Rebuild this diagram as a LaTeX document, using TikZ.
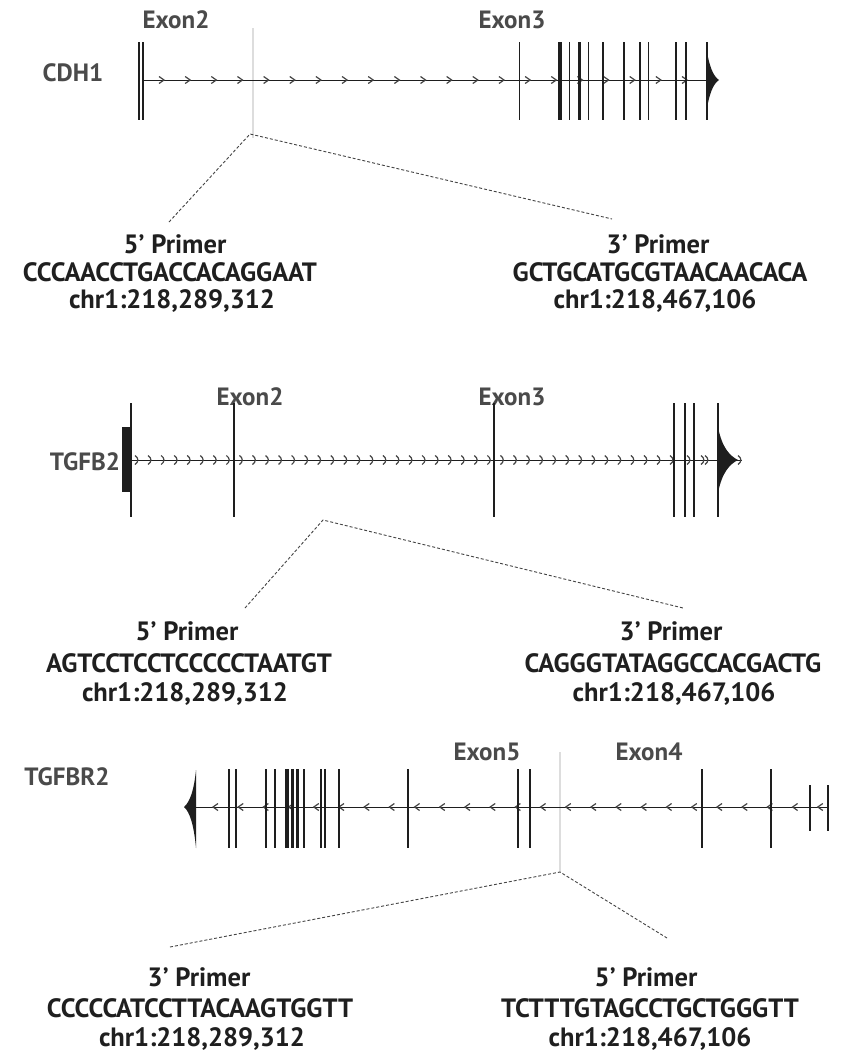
\documentclass[tikz,border=0pt]{standalone}
\usepackage{fontspec}
\setmainfont{PT Sans}
\definecolor{linec}{HTML}{1E1E1E}
\definecolor{labgray}{HTML}{4A4A4A}
\definecolor{txtdark}{HTML}{1F1F1F}
\definecolor{chevc}{HTML}{444444}
\definecolor{faint}{HTML}{DDDDDD}
\tikzset{
  lab/.style={font=\fontsize{25}{25}\selectfont\bfseries, text=labgray, inner sep=0pt, anchor=base},
  seqtxt/.style={font=\fontsize{26.5}{26.5}\selectfont\bfseries, text=txtdark, inner sep=0pt, anchor=base},
  gline/.style={line width=1pt, draw=linec},
  thinbar/.style={line width=1.6pt, draw=linec},
  thickbar/.style={line width=3.2pt, draw=linec},
  chev/.style={line width=1.2pt, draw=chevc},
  prim/.style={dash pattern=on 3pt off 2pt, line width=0.9pt, draw=chevc},
  faintline/.style={line width=1.5pt, draw=faint}
}
\begin{document}
\begin{tikzpicture}[x=1pt,y=-1pt]
\useasboundingbox (0,0) rectangle (844,1055);
\fill[white] (0,0) rectangle (844,1055);

% ================= CDH1 =================
\draw[faintline] (253,28) -- (253,138);
\node[lab] (cdh1) at (73,81) {CDH1};
\node[lab] (c-ex2) at (176,28) {Exon2};
\node[lab] (c-ex3) at (512,28) {Exon3};
\draw[gline] (143,80) -- (716,80);
\foreach \x in {0,...,20} {
  \draw[chev] ({162+26.15*\x-3},76.5) -- ({162+26.15*\x+2},80) -- ({162+26.15*\x-3},83.5);
}
\foreach \x in {139,143,519.3,569.3,588.3,602.7,624,640,648.3,676,686,706.7} {
  \draw[thinbar] (\x,42) -- (\x,120);
}
\foreach \x in {560,579.3} {
  \draw[thickbar] (\x,42) -- (\x,120);
}
\fill[linec] (706,46) .. controls (709,66) and (713,76) .. (719,80) .. controls (713,84) and (709,94) .. (706,114) -- cycle;

\coordinate (apex1) at (250,134);
\coordinate (l1) at (169,222);
\coordinate (r1) at (612,219);
\draw[prim] (l1) -- (apex1) -- (r1);

\node[seqtxt] (c-p5) at (175,253) {5’ Primer};
\node[seqtxt] (c-s5) at (170,281) {CCCAACCTGACCACAGGAAT};
\node[seqtxt] (c-c5) at (172,308) {chr1:218,289,312};
\node[seqtxt] (c-p3) at (658,253) {3’ Primer};
\node[seqtxt] (c-s3) at (660,281) {GCTGCATGCGTAACAACACA};
\node[seqtxt] (c-c3) at (655,308) {chr1:218,467,106};

% ================= TGFB2 =================
\node[lab] (tgfb2) at (85,470) {TGFB2};
\node[lab] (t-ex2) at (250,405) {Exon2};
\node[lab] (t-ex3) at (512,405) {Exon3};
\draw[gline] (131,460) -- (742,460);
\foreach \x in {0,...,41} {
  \draw[chev] ({137+13.05*\x-2},455.5) .. controls ({137+13.05*\x+1.8},458) and ({137+13.05*\x+1.8},462) .. ({137+13.05*\x-2},464.5);
}
\foreach \x in {689,703,707,740} {
  \draw[chev] (\x-2,455.5) .. controls (\x+1.8,458) and (\x+1.8,462) .. (\x-2,464.5);
}
\fill[linec] (122,427) rectangle (130,492);
\foreach \x in {131,234,494,674,685,694,718} {
  \draw[thinbar] (\x,403) -- (\x,517);
}
\fill[linec] (718,427) .. controls (722,448) and (730,456) .. (738,460) .. controls (730,464) and (722,472) .. (718,493) -- cycle;

\coordinate (apex2) at (323,520);
\coordinate (l2) at (245,608);
\coordinate (r2) at (683,608);
\draw[prim] (l2) -- (apex2) -- (r2);

\node[seqtxt] (t-p5) at (187,640) {5’ Primer};
\node[seqtxt] (t-s5) at (189,672) {AGTCCTCCTCCCCCTAATGT};
\node[seqtxt] (t-c5) at (185,701) {chr1:218,289,312};
\node[seqtxt] (t-p3) at (671,640) {3’ Primer};
\node[seqtxt] (t-s3) at (673,672) {CAGGGTATAGGCCACGACTG};
\node[seqtxt] (t-c3) at (674,701) {chr1:218,467,106};

% ================= TGFBR2 =================
\draw[faintline] (560,752) -- (560,872);
\node[lab] (tgfbr2) at (67,785) {TGFBR2};
\node[lab] (r-ex5) at (487,760) {Exon5};
\node[lab] (r-ex4) at (649,760) {Exon4};
\draw[gline] (186,807) -- (828,807);
\foreach \x in {0,...,24} {
  \draw[chev] ({215+25.2*\x+3},803.5) -- ({215+25.2*\x-2},807) -- ({215+25.2*\x+3},810.5);
}
\foreach \x in {229,236,266,275,304,321,325,339,408,518,530,702,771} {
  \draw[thinbar] (\x,769) -- (\x,848);
}
\foreach \x in {287,292.5,297.5} {
  \draw[thickbar] (\x,769) -- (\x,848);
}
\foreach \x in {810,828} {
  \draw[thinbar] (\x,785) -- (\x,831);
}
\fill[linec] (196,770) .. controls (194,790) and (190,802) .. (184,807) .. controls (190,812) and (194,826) .. (196,848) -- cycle;

\coordinate (apex3) at (560,872);
\coordinate (l3) at (170,947);
\coordinate (r3) at (667,938);
\draw[prim] (l3) -- (apex3) -- (r3);

\node[seqtxt] (r-p3) at (199,986) {3’ Primer};
\node[seqtxt] (r-s3) at (200,1017) {CCCCCATCCTTACAAGTGGTT};
\node[seqtxt] (r-c3) at (202,1046) {chr1:218,289,312};
\node[seqtxt] (r-p5) at (646,986) {5’ Primer};
\node[seqtxt] (r-s5) at (650,1017) {TCTTTGTAGCCTGCTGGGTT};
\node[seqtxt] (r-c5) at (650,1046) {chr1:218,467,106};
\end{tikzpicture}
\end{document}
